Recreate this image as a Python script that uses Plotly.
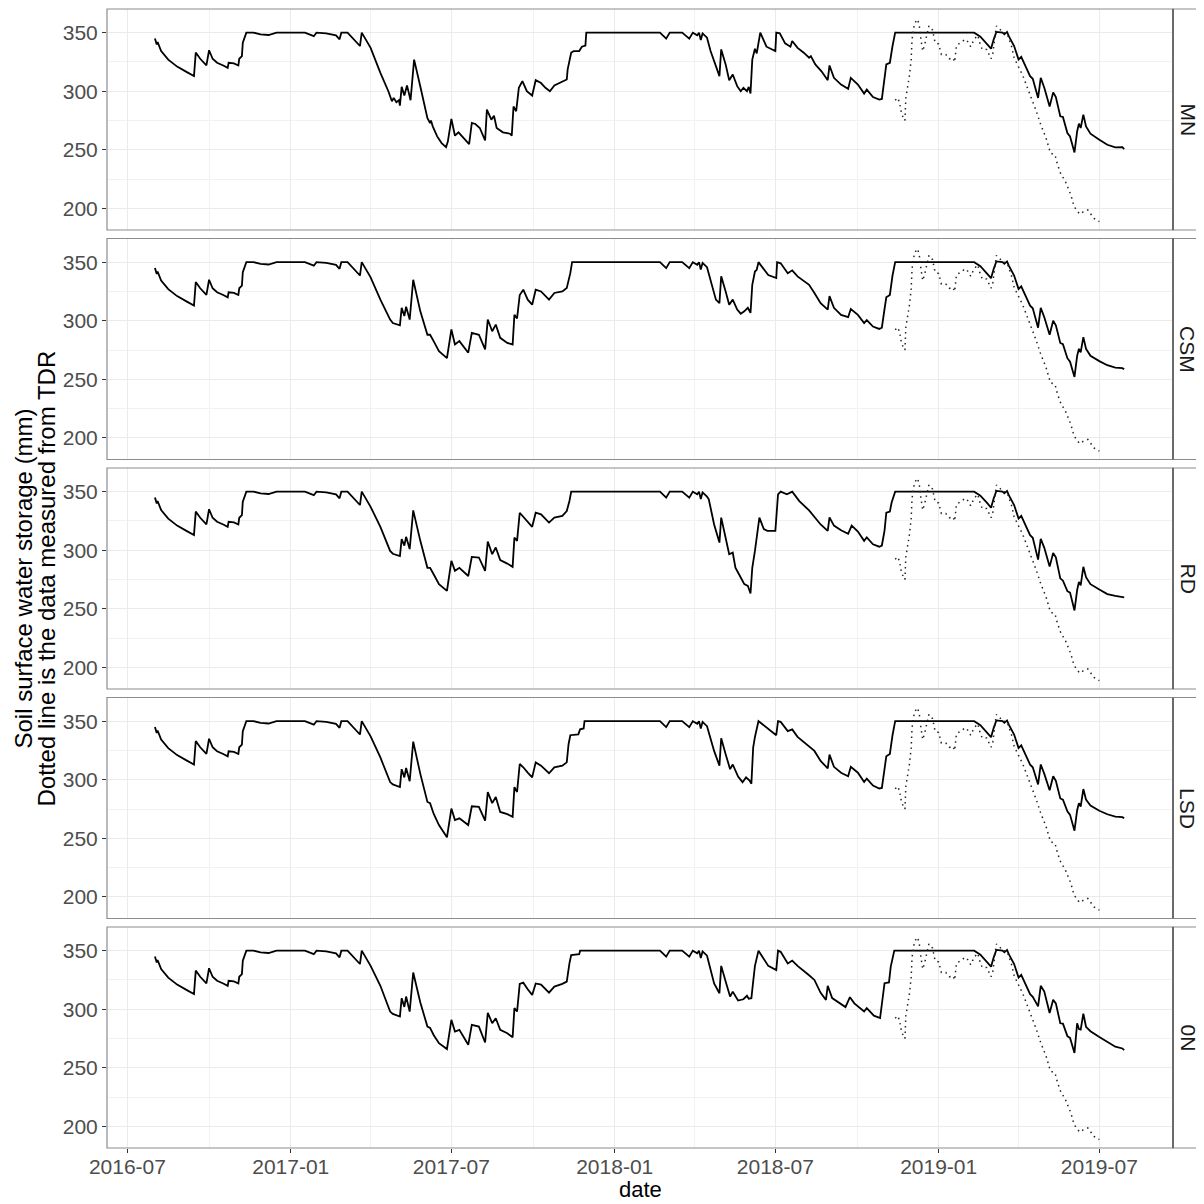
import plotly.graph_objects as go

# ---------------- data ----------------
panels = ["MN", "CSM", "RD", "LSD", "0N"]

# common start (Aug 2016 - Apr 2017)
common16_dates = ["2016-08-01", "2016-08-03", "2016-08-04", "2016-08-08", "2016-08-16", "2016-08-26",
                  "2016-09-06", "2016-09-13", "2016-09-14", "2016-09-16", "2016-09-21", "2016-09-28",
                  "2016-10-01", "2016-10-05", "2016-10-10", "2016-10-17", "2016-10-22", "2016-10-23",
                  "2016-10-29", "2016-11-03", "2016-11-04", "2016-11-07", "2016-11-08", "2016-11-12",
                  "2016-11-20", "2016-11-28", "2016-12-07", "2016-12-16", "2017-01-17", "2017-01-27",
                  "2017-01-30", "2017-02-10", "2017-02-21", "2017-02-25", "2017-02-27", "2017-03-06",
                  "2017-03-13", "2017-03-20", "2017-03-22", "2017-04-01"]
common16_vals = [345, 340, 342, 334.3, 327, 321,
                 316.3, 314, 313, 333, 327.7, 322,
                 335, 327.7, 324.3, 322, 320, 324.3,
                 323.7, 322, 327.7, 330, 341.4, 350,
                 350, 348.6, 348, 350, 350, 347,
                 350, 349.4, 347.7, 344.3, 350, 350,
                 344.3, 338.6, 350, 337]

# 2017 dip, per panel
MN_d17 = ["2017-04-12", "2017-04-21", "2017-04-25", "2017-04-27", "2017-04-30", "2017-05-03", "2017-05-04",
          "2017-05-06", "2017-05-09", "2017-05-12", "2017-05-16", "2017-05-20", "2017-05-27", "2017-06-04",
          "2017-06-07", "2017-06-08", "2017-06-10", "2017-06-15", "2017-06-20", "2017-06-25", "2017-06-27",
          "2017-07-01", "2017-07-05", "2017-07-09", "2017-07-21", "2017-07-24", "2017-07-28", "2017-08-02",
          "2017-08-08", "2017-08-10", "2017-08-15", "2017-08-18", "2017-08-21", "2017-08-28", "2017-09-05",
          "2017-09-07", "2017-09-09", "2017-09-12", "2017-09-15", "2017-09-19", "2017-09-24", "2017-09-30",
          "2017-10-04", "2017-10-10", "2017-10-15", "2017-10-20", "2017-10-25", "2017-10-30", "2017-11-03",
          "2017-11-08", "2017-11-09", "2017-11-13", "2017-11-16", "2017-11-22", "2017-11-25", "2017-11-29",
          "2017-11-30"]
MN_v17 = [315.7, 300, 291.4, 294.3, 290.6, 292.3, 287.7,
          303.7, 296.3, 305, 292.3, 327, 304, 277,
          272.9, 275, 270, 261.4, 255.7, 252.3, 257,
          276.3, 262, 264.9, 254.9, 272.9, 272, 268.6,
          258, 284.3, 275.7, 279, 268.6, 264.9, 263.7,
          262, 287, 282.9, 302.9, 308.6, 300, 296.3,
          309.4, 307, 302.9, 300, 304.9, 306.6, 308.6,
          310, 318.6, 332.9, 334.3, 334.3, 338, 339,
          350]

dip_dates_a = ["2017-04-12", "2017-04-23", "2017-04-26", "2017-05-04", "2017-05-06", "2017-05-09", "2017-05-11",
               "2017-05-15", "2017-05-19", "2017-05-27", "2017-06-04", "2017-06-07", "2017-06-11", "2017-06-17",
               "2017-06-26", "2017-07-01", "2017-07-05", "2017-07-10", "2017-07-20", "2017-07-24", "2017-08-01",
               "2017-08-08", "2017-08-11", "2017-08-16", "2017-08-20", "2017-08-25", "2017-09-02", "2017-09-08",
               "2017-09-10", "2017-09-13", "2017-09-16", "2017-09-20", "2017-09-25", "2017-09-30", "2017-10-04",
               "2017-10-10", "2017-10-19", "2017-10-25", "2017-11-03", "2017-11-08"]
CSM_v17 = [318, 301, 298, 296, 311, 304, 312,
           301, 335, 308, 288, 288, 282.6, 274,
           268, 292.5, 279.7, 282.6, 272.7, 289.7, 288,
           275.5, 301, 291, 296.7, 285.4, 281, 279.7,
           305, 302, 322, 326.5, 318, 313.7, 326.5,
           325, 318, 323.7, 325, 328]
CSM_d17_end = ["2017-11-12", "2017-11-14"]
CSM_v17_end = [340.6, 350]

RD_v17 = [320, 299.4, 297, 295, 309.4, 304, 311.4,
          301, 334, 308, 285, 285, 279.5, 271,
          265.3, 291, 282.4, 285, 278, 294.3, 293.8,
          282.4, 307.4, 296.6, 302.3, 291.5, 288.6, 285.8,
          310.8, 308, 332, 328.4, 323.6, 320, 332,
          330.7, 323.6, 327.8, 329.3, 333.5]
RD_d17_end = ["2017-11-11", "2017-11-13"]
RD_v17_end = [342, 350]

LSD_v17 = [319, 298, 296, 293.7, 309, 302, 310,
           298.7, 332.5, 305, 281, 280, 271, 261.3,
           250.8, 275.4, 265.5, 267, 261.3, 277.3, 276.8,
           265, 289.4, 280, 285.2, 272.5, 270.6, 268.3,
           293.7, 289.5, 313.4, 310.6, 306, 302, 314.8,
           312, 305.5, 310.6, 312, 314.8]
LSD_d17_end = ["2017-11-10", "2017-11-12", "2017-11-21", "2017-11-23", "2017-11-27", "2017-11-28"]
LSD_v17_end = [330.3, 338, 338.7, 343, 343.8, 350]

ON_v17 = [320, 298, 296, 293.8, 309.4, 302, 310.8,
          298, 331.3, 305.7, 285.2, 284, 278, 271,
          266, 291, 281, 282.4, 269.6, 286.6, 285.2,
          271.6, 297, 288, 292.3, 282.4, 279.5, 276,
          300.9, 298, 321.6, 322.7, 317, 312.2, 322,
          321, 314.2, 319.3, 321.6, 323.6]
ON_d17_end = ["2017-11-11", "2017-11-13", "2017-11-22", "2017-11-23"]
ON_v17_end = [339.2, 346.3, 347, 350]

# common early 2018 plateau
plat18_dates = ["2018-02-21", "2018-02-28", "2018-03-04", "2018-03-18", "2018-03-26", "2018-03-30",
                "2018-04-04", "2018-04-06", "2018-04-08", "2018-04-10", "2018-04-15"]
plat18_vals = [350, 344.9, 350, 350, 344.9, 350, 347.7, 350, 343.7, 349.4, 345.7]

# 2018 (Apr - Nov), per panel
MN_d18 = ["2018-04-19", "2018-04-25", "2018-04-29", "2018-05-01", "2018-05-06", "2018-05-10", "2018-05-14",
          "2018-05-19", "2018-05-23", "2018-05-26", "2018-05-30", "2018-06-01", "2018-06-03", "2018-06-05",
          "2018-06-08", "2018-06-10", "2018-06-14", "2018-06-21", "2018-07-01", "2018-07-02", "2018-07-06",
          "2018-07-12", "2018-07-18", "2018-07-20", "2018-07-26", "2018-08-02", "2018-08-08", "2018-08-10",
          "2018-08-15", "2018-08-22", "2018-08-29", "2018-08-31", "2018-09-05", "2018-09-13", "2018-09-21",
          "2018-09-24", "2018-10-02", "2018-10-09", "2018-10-12", "2018-10-19", "2018-10-26", "2018-10-29",
          "2018-11-01", "2018-11-03", "2018-11-07", "2018-11-09", "2018-11-10", "2018-11-13"]
MN_v18 = [334.3, 321.4, 312.9, 335.7, 322.9, 309.4, 314.3,
          304.3, 300, 302.9, 300, 303.7, 298, 327,
          336.3, 332.3, 350, 338, 334.3, 350, 349.4,
          340.9, 338, 342.9, 337, 332.9, 328.6, 330,
          322.9, 317, 309.4, 322, 311.4, 305.7, 302,
          311.4, 305.7, 298, 301.4, 295, 292.9, 293.4,
          310, 322.9, 324.3, 337, 338.6, 350]

CSM_d18 = ["2018-04-21", "2018-04-25", "2018-04-29", "2018-05-01", "2018-05-06", "2018-05-10", "2018-05-14",
           "2018-05-19", "2018-05-23", "2018-05-27", "2018-05-31", "2018-06-03", "2018-06-05", "2018-06-08",
           "2018-06-10", "2018-06-12", "2018-06-23", "2018-07-02", "2018-07-03", "2018-07-07", "2018-07-15",
           "2018-07-20", "2018-07-26", "2018-08-08", "2018-08-14", "2018-08-21", "2018-08-29", "2018-08-31",
           "2018-09-05", "2018-09-13", "2018-09-21", "2018-09-24", "2018-10-02", "2018-10-09", "2018-10-12",
           "2018-10-19", "2018-10-26", "2018-10-29", "2018-11-01", "2018-11-03", "2018-11-07", "2018-11-09",
           "2018-11-10", "2018-11-13"]
CSM_v18 = [328, 318, 315, 338, 325, 313.7, 318,
           309.5, 306, 308, 311, 306.7, 330.7, 342,
           343.5, 350, 339, 336.4, 350, 349, 340.6,
           343, 337.8, 330.7, 323.6, 315, 309.4, 321,
           311, 305, 303, 310, 305, 298, 300.5,
           295, 293, 294, 310, 320, 322, 337,
           338.6, 350]

RD_d18 = ["2018-04-17", "2018-04-23", "2018-04-29", "2018-05-01", "2018-05-04", "2018-05-10", "2018-05-14",
          "2018-05-17", "2018-05-23", "2018-05-27", "2018-05-31", "2018-06-03", "2018-06-05", "2018-06-08",
          "2018-06-13", "2018-06-18", "2018-06-22", "2018-07-01", "2018-07-04", "2018-07-07", "2018-07-14",
          "2018-07-20", "2018-07-28", "2018-08-08", "2018-08-21", "2018-08-29", "2018-08-31", "2018-09-05",
          "2018-09-13", "2018-09-21", "2018-09-25", "2018-10-02", "2018-10-09", "2018-10-12", "2018-10-19",
          "2018-10-26", "2018-10-29", "2018-11-01", "2018-11-03", "2018-11-07", "2018-11-09", "2018-11-13"]
RD_v18 = [343.5, 322, 306.5, 327.8, 316.5, 296.6, 298,
          285, 276.7, 271, 269.6, 263, 285, 299.4,
          327.8, 318, 316.5, 316.5, 347.7, 350, 347.7,
          350, 342, 334, 322, 316.5, 328, 321,
          317, 314, 321, 316, 308, 311, 305,
          303, 304, 316.8, 332, 333, 340.7, 350]

LSD_d18 = ["2018-04-23", "2018-04-29", "2018-05-01", "2018-05-06", "2018-05-11", "2018-05-14", "2018-05-20",
           "2018-05-25", "2018-05-29", "2018-06-02", "2018-06-04", "2018-06-06", "2018-06-08", "2018-06-12",
           "2018-06-23", "2018-07-02", "2018-07-04", "2018-07-07", "2018-07-15", "2018-07-20", "2018-07-26",
           "2018-08-08", "2018-08-14", "2018-08-21", "2018-08-29", "2018-08-31", "2018-09-05", "2018-09-13",
           "2018-09-21", "2018-09-24", "2018-10-02", "2018-10-09", "2018-10-12", "2018-10-19", "2018-10-26",
           "2018-10-29", "2018-11-01", "2018-11-03", "2018-11-07", "2018-11-09", "2018-11-10", "2018-11-13"]
LSD_v18 = [324.6, 312, 335.4, 321.8, 309, 313, 302.7,
           297.9, 302, 299.3, 296.5, 327.5, 336.5, 350,
           343, 338, 350, 349.4, 341.5, 343, 336.6,
           328.9, 324.6, 316, 309.6, 321.4, 311, 306,
           303, 311, 306, 298, 301, 295, 292.5,
           293, 312, 320, 322, 335, 338, 350]

ON_d18 = ["2018-04-23", "2018-04-29", "2018-05-01", "2018-05-06", "2018-05-11", "2018-05-14", "2018-05-20",
          "2018-05-26", "2018-05-30", "2018-06-01", "2018-06-04", "2018-06-06", "2018-06-08", "2018-06-12",
          "2018-06-23", "2018-07-02", "2018-07-04", "2018-07-07", "2018-07-15", "2018-07-20", "2018-07-26",
          "2018-08-08", "2018-08-14", "2018-08-21", "2018-08-27", "2018-08-29", "2018-09-03", "2018-09-18",
          "2018-09-23", "2018-09-28", "2018-10-09", "2018-10-12", "2018-10-20", "2018-10-27", "2018-10-30",
          "2018-11-01", "2018-11-06", "2018-11-08", "2018-11-12"]
ON_v18 = [322, 313.6, 337, 323.6, 310.8, 315, 307.4,
          308.5, 311.5, 309, 309.4, 323.6, 337, 350,
          337, 333.5, 350, 349, 339, 341.5, 337,
          329, 325, 314, 308, 320, 309.5, 301.8,
          310.3, 305, 298, 301, 294.5, 292.5, 308,
          322.2, 322.8, 336.4, 350]

# common winter 2018/19 plateau
plat19_dates = ["2019-02-10", "2019-02-17", "2019-02-25", "2019-03-01", "2019-03-04", "2019-03-07",
                "2019-03-14", "2019-03-16", "2019-03-19", "2019-03-21", "2019-03-27", "2019-04-01",
                "2019-04-04", "2019-04-11", "2019-04-14", "2019-04-17"]
plat19_vals = [350, 346.6, 340, 336.3, 344.3, 350.6,
               350, 348.6, 350.6, 347, 338.6, 327,
               329.4, 318.6, 312.9, 310.6]

# 2019 drying, per panel
d19_dates = ["2019-04-23", "2019-04-26", "2019-04-30", "2019-05-06", "2019-05-10", "2019-05-13",
             "2019-05-18", "2019-05-21", "2019-05-26", "2019-05-29", "2019-06-03", "2019-06-06",
             "2019-06-08", "2019-06-10", "2019-06-13", "2019-06-16", "2019-06-21", "2019-07-01",
             "2019-07-10", "2019-07-19", "2019-07-27", "2019-07-29"]
MN_v19 = [294.3, 311.4, 302.9, 287, 299, 295,
          278.6, 278, 264.3, 261.4, 247.7, 265.7,
          272.3, 268.6, 280, 270, 263.7, 258.6,
          254.3, 252, 252.3, 250.6]
CSM_v19 = [294, 311, 303, 288, 300, 296,
           281, 280, 268, 265, 252, 270,
           276, 273, 286, 276, 270, 265.5,
           262, 260, 259.5, 258.5]
RD_v19 = [292, 309.7, 302, 286, 297.6, 294,
          276, 274, 265, 263.8, 248.6, 266,
          273, 270, 285.8, 277, 271, 266.5,
          262.5, 261, 260.4, 259.8]
LSD_v19 = [296, 313, 305, 291, 303, 299,
           284, 283, 273, 270, 256.5, 274,
           280, 277, 292, 283, 278, 273.5,
           270.5, 268.5, 268, 267]
ON_v19 = [302.4, 320, 315, 296.7, 308, 305,
          288, 287.7, 277, 275.5, 262.7, 288,
          283, 282.6, 296.2, 285, 281.2, 276.3,
          272, 268, 266.5, 265]

# TDR measurements (dotted)
tdr_dates = ["2018-11-13", "2018-11-16", "2018-11-18", "2018-11-20", "2018-11-23", "2018-11-24", "2018-11-25",
             "2018-11-27", "2018-11-29", "2018-12-01", "2018-12-02", "2018-12-04", "2018-12-05", "2018-12-08",
             "2018-12-10", "2018-12-12", "2018-12-14", "2018-12-16", "2018-12-18", "2018-12-21", "2018-12-25",
             "2018-12-28", "2019-01-01", "2019-01-04", "2019-01-09", "2019-01-13", "2019-01-17", "2019-01-19",
             "2019-01-21", "2019-01-26", "2019-01-31", "2019-02-04", "2019-02-06", "2019-02-10", "2019-02-14",
             "2019-02-16", "2019-02-19", "2019-02-24", "2019-03-01", "2019-03-03", "2019-03-05", "2019-03-07",
             "2019-03-11", "2019-03-14", "2019-03-19", "2019-03-24", "2019-03-27", "2019-04-01", "2019-04-06",
             "2019-04-11", "2019-04-17", "2019-04-21", "2019-04-26", "2019-05-02", "2019-05-07", "2019-05-12",
             "2019-05-15", "2019-05-19", "2019-05-23", "2019-05-26", "2019-05-30", "2019-06-02", "2019-06-05",
             "2019-06-09", "2019-06-13", "2019-06-18", "2019-06-21", "2019-06-25", "2019-07-01"]
tdr_vals = [292.3, 294.3, 290, 281.4, 275.7, 275, 294.3,
            303.7, 312.9, 327, 344.3, 354.3, 358, 361.4,
            357, 344.3, 334.3, 339, 344.9, 355.7, 352.3,
            341.4, 340.3, 331.4, 331.4, 327.7, 328.6, 324.9,
            339, 341.4, 344.3, 341.4, 338, 344.3, 347.7,
            342, 335.7, 335.7, 327.7, 332.3, 344.3, 355.7,
            352.9, 350, 349.4, 338.6, 328.6, 321.4, 312.9,
            302.9, 291.4, 282.9, 271.4, 260, 247.1, 245.7,
            237.1, 228.6, 224.3, 218.6, 211.4, 202.9, 198.6,
            195.1, 197.1, 198.6, 195.1, 191.4, 188.6]

x_ticks = ["2016-07-01", "2017-01-01", "2017-07-01", "2018-01-01", "2018-07-01", "2019-01-01", "2019-07-01"]
x_tick_labels = ["2016-07", "2017-01", "2017-07", "2018-01", "2018-07", "2019-01", "2019-07"]
x_minor = ["2016-10-01", "2017-04-01", "2017-10-01", "2018-04-01", "2018-10-01", "2019-04-01"]
y_ticks = [200, 250, 300, 350]
y_minor = [225, 275, 325]

# ---------------- assemble series ----------------
series = {
    "MN": (common16_dates + MN_d17 + plat18_dates + MN_d18 + plat19_dates + d19_dates,
           common16_vals + MN_v17 + plat18_vals + MN_v18 + plat19_vals + MN_v19),
    "CSM": (common16_dates + dip_dates_a + CSM_d17_end + plat18_dates + CSM_d18 + plat19_dates + d19_dates,
            common16_vals + CSM_v17 + CSM_v17_end + plat18_vals + CSM_v18 + plat19_vals + CSM_v19),
    "RD": (common16_dates + dip_dates_a + RD_d17_end + plat18_dates + RD_d18 + plat19_dates + d19_dates,
           common16_vals + RD_v17 + RD_v17_end + plat18_vals + RD_v18 + plat19_vals + RD_v19),
    "LSD": (common16_dates + dip_dates_a + LSD_d17_end + plat18_dates + LSD_d18 + plat19_dates + d19_dates,
            common16_vals + LSD_v17 + LSD_v17_end + plat18_vals + LSD_v18 + plat19_vals + LSD_v19),
    "0N": (common16_dates + dip_dates_a + ON_d17_end + plat18_dates + ON_d18 + plat19_dates + d19_dates,
           common16_vals + ON_v17 + ON_v17_end + plat18_vals + ON_v18 + plat19_vals + ON_v19),
}

# ---------------- figure ----------------
# page body has an 8px margin, so the figure is drawn 8px in from the top-left
W, H = 1196, 1196
ML, MR, MT, MB = 99, 31, 1, 56
plot_w = W - ML - MR
plot_h = H - MT - MB
panel_h = 221
gap = (plot_h - 5 * panel_h) / 4

fig = go.Figure()
FONT = "Liberation Sans, Arial, sans-serif"
x_range = ["2016-06-08", "2019-09-22"]
y_range = [181.5, 370.2]
TICK_SIZE = 21
TITLE_SIZE = 24

layout = dict(
    width=W, height=H,
    margin=dict(l=ML, r=MR, t=MT, b=MB, autoexpand=False),
    paper_bgcolor="white", plot_bgcolor="white",
    showlegend=False,
    font=dict(family=FONT),
)
shapes = []
annotations = []
for i, name in enumerate(panels):
    k = "" if i == 0 else str(i + 1)
    top = MT + i * (panel_h + gap)
    bot = top + panel_h
    d0 = (H - MB - bot) / plot_h
    d1 = (H - MB - top) / plot_h
    last = (i == len(panels) - 1)
    layout["xaxis" + k] = dict(
        domain=[0, 1], anchor="y" + k, range=x_range, type="date",
        tickmode="array", tickvals=x_ticks, ticktext=x_tick_labels,
        showticklabels=last, ticks="outside" if last else "", ticklen=4, tickcolor="#333333",
        tickfont=dict(size=TICK_SIZE, color="#4d4d4d", family=FONT),
        showgrid=True, gridcolor="#ebebeb", gridwidth=1.3,
        minor=dict(tickvals=x_minor, showgrid=True, gridcolor="#f2f2f2", gridwidth=0.7, ticks=""),
        showline=False, zeroline=False,
        matches=None if i == 0 else "x",
    )
    layout["yaxis" + k] = dict(
        domain=[d0, d1], anchor="x" + k, range=y_range,
        tickmode="array", tickvals=y_ticks,
        ticks="outside", ticklen=4, tickcolor="#333333",
        tickfont=dict(size=TICK_SIZE, color="#4d4d4d", family=FONT),
        showgrid=True, gridcolor="#ebebeb", gridwidth=1.3,
        minor=dict(tickvals=y_minor, showgrid=True, gridcolor="#f2f2f2", gridwidth=0.7, ticks=""),
        showline=False, zeroline=False,
    )
    xd, yd = series[name]
    fig.add_trace(go.Scatter(x=xd, y=yd, mode="lines", xaxis="x" + k, yaxis="y" + k,
                             line=dict(color="black", width=1.8), hoverinfo="skip"))
    fig.add_trace(go.Scatter(x=tdr_dates, y=tdr_vals, mode="lines", xaxis="x" + k, yaxis="y" + k,
                             line=dict(color="#222222", width=1.5, dash="1.5px,4px"), hoverinfo="skip"))
    # strip box
    shapes.append(dict(type="rect", xref="x" + k + " domain", yref="y" + k + " domain",
                       x0=1, x1=1.06, y0=0, y1=1, line=dict(color="#8c8c8c", width=1.2),
                       fillcolor="white", layer="below"))
    # panel border
    shapes.append(dict(type="rect", xref="x" + k + " domain", yref="y" + k + " domain",
                       x0=0, x1=1, y0=0, y1=1, line=dict(color="#8c8c8c", width=1.2),
                       fillcolor="rgba(0,0,0,0)", layer="above"))
    # darker right edge shared with the strip
    shapes.append(dict(type="line", xref="x" + k + " domain", yref="y" + k + " domain",
                       x0=1, x1=1, y0=0, y1=1, line=dict(color="#555555", width=1.4), layer="above"))
    annotations.append(dict(text=name, xref="x" + k + " domain", yref="y" + k + " domain",
                            x=1 + 15 / plot_w, y=0.5, xanchor="center", yanchor="middle",
                            textangle=90, showarrow=False,
                            font=dict(size=TICK_SIZE, color="#1a1a1a", family=FONT)))

annotations.append(dict(text="date", xref="paper", yref="paper", x=0.5, y=-41 / plot_h,
                        xanchor="center", yanchor="middle", showarrow=False,
                        font=dict(size=22, color="black", family=FONT)))
annotations.append(dict(text="Soil surface water storage (mm)",
                        xref="paper", yref="paper", x=(15 - ML) / plot_w, y=0.5,
                        xanchor="center", yanchor="middle", textangle=-90, showarrow=False,
                        font=dict(size=TITLE_SIZE, color="black", family=FONT)))
annotations.append(dict(text="Dotted line is the data measured from TDR",
                        xref="paper", yref="paper", x=(38 - ML) / plot_w, y=0.5,
                        xanchor="center", yanchor="middle", textangle=-90, showarrow=False,
                        font=dict(size=TITLE_SIZE, color="black", family=FONT)))
layout["shapes"] = shapes
layout["annotations"] = annotations
fig.update_layout(**layout)

# pull the x tick labels slightly closer to the axis, as in the reference
try:
    fig.update_xaxes(ticklabelstandoff=-4)
except Exception:
    pass

fig.write_html("out.html")
